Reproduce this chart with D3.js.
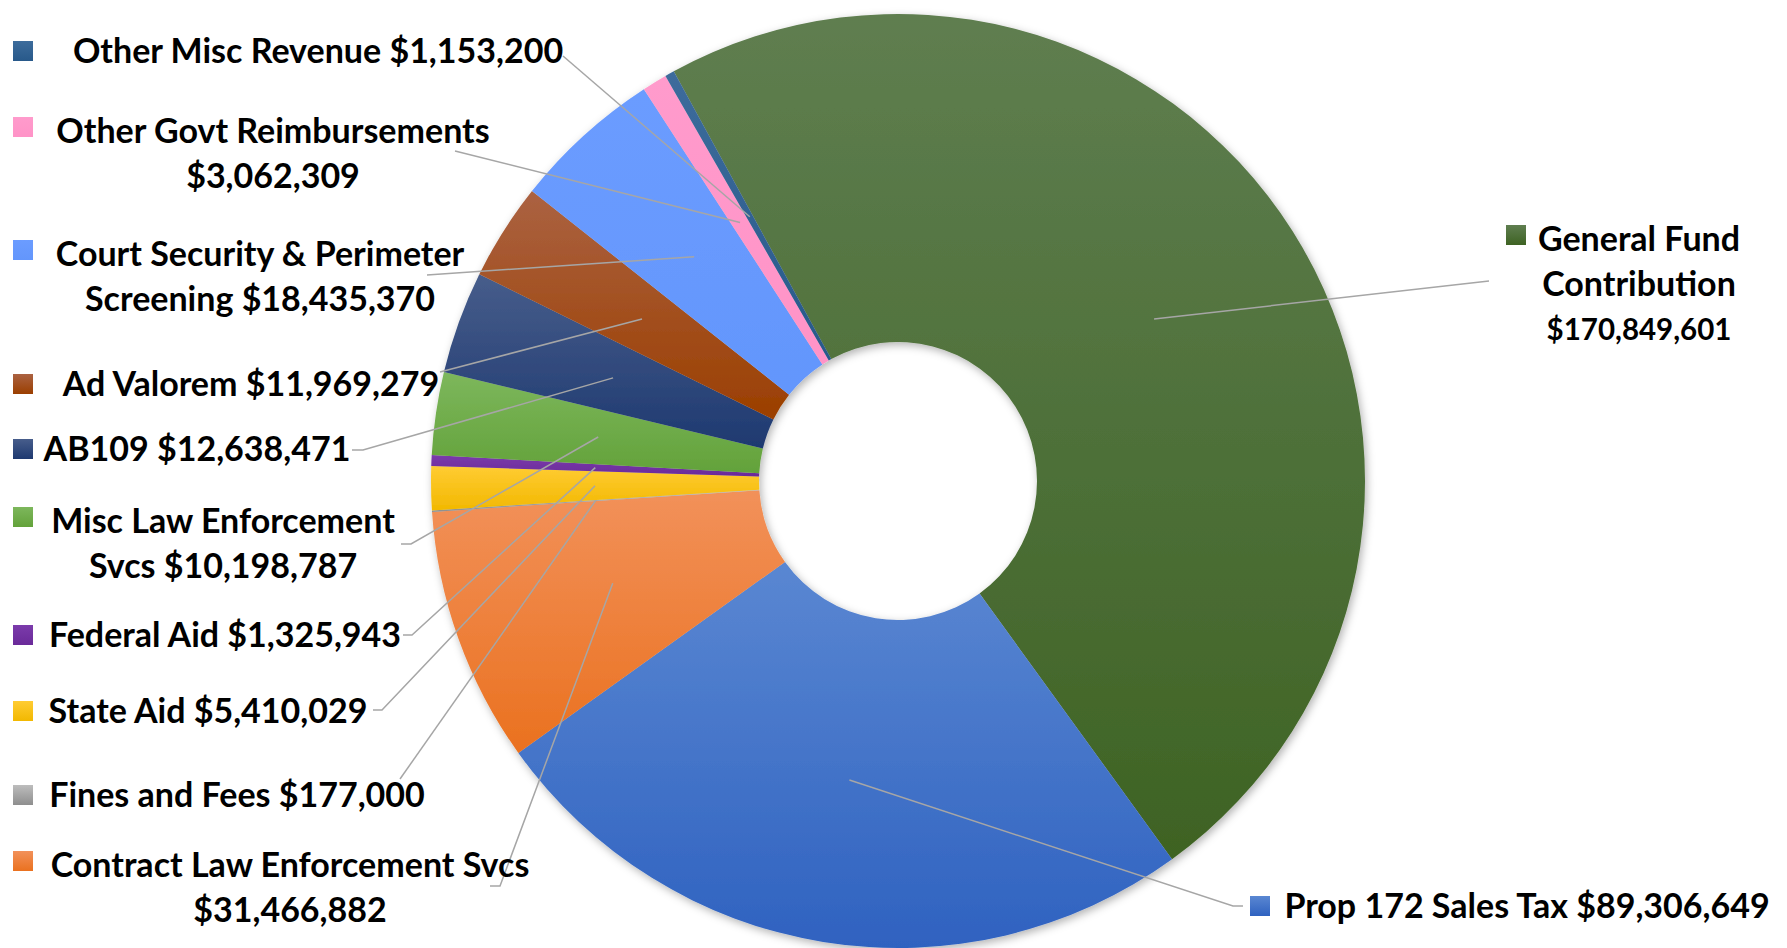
<!DOCTYPE html>
<html>
<head>
<meta charset="utf-8">
<script src="https://cdn.jsdelivr.net/npm/d3@7"></script>
<style>
  body { margin: 0; background: #fff; }
  .label { font-family: Lato, "Open Sans", sans-serif; font-weight: 700; font-size: 34px; fill: #000; }
  .leader { fill: none; stroke: #a6a6a6; stroke-width: 1.5; }
</style>
</head>
<body>
<div id="chart"></div>
<script>
// slices in drawing order, clockwise from the General Fund slice
const categories = [
  "General Fund Contribution",
  "Prop 172 Sales Tax",
  "Contract Law Enforcement Svcs",
  "Fines and Fees",
  "State Aid",
  "Federal Aid",
  "Misc Law Enforcement Svcs",
  "AB109",
  "Ad Valorem",
  "Court Security & Perimeter Screening",
  "Other Govt Reimbursements",
  "Other Misc Revenue"
];
const values = [170849601, 89306649, 31466882, 177000, 5410029, 1325943,
  10198787, 12638471, 11969279, 18435370, 3062309, 1153200];

const topColors = ["#5f7e50", "#5a87d2", "#f2915a", "#bdbdbd", "#ffcc33", "#7b3bab",
  "#7db75c", "#475d8b", "#ab6242", "#6b9cff", "#ff9bcc", "#3d6c9c"];
const bottomColors = ["#3e6323", "#2f62c0", "#ea711f", "#8e8e8e", "#f2b800", "#6a2a99",
  "#63a23a", "#1e3970", "#9b3f00", "#6396fc", "#ff93c7", "#28598a"];

// words per label line
const lineSplits = [[2, 1, 1], [6], [4, 1], [4], [3], [3], [3, 2], [2], [3], [4, 2], [3, 1], [4]];

;(function () {
  const width = 1787, height = 948;
  const cx = 898, cy = 481, outerR = 467, innerR = 139;
  const startAngle = -28.7 * Math.PI / 180;
  const lineGap = 44.5;

  // label boxes placed by hand, like the original
  const labelPos = [
    { keyX: 1506, x: 1639, y: 239, pts: [[1489, 281]] },
    { keyX: 1250, x: 1527, y: 906, pts: [[1243, 906], [1233, 906]] },
    { keyX: 13, x: 290, y: 865, pts: [[490, 886], [500, 886]] },
    { keyX: 13, x: 237, y: 795, pts: [[400, 779]] },
    { keyX: 13, x: 208, y: 711, pts: [[373, 710], [382, 710]] },
    { keyX: 13, x: 225, y: 635, pts: [[403, 635], [412, 635]] },
    { keyX: 13, x: 223, y: 521, pts: [[401, 544], [411, 544]] },
    { keyX: 13, x: 197, y: 449, pts: [[352, 450], [363, 450]] },
    { keyX: 13, x: 251, y: 384, pts: [[440, 372]] },
    { keyX: 13, x: 260, y: 254, pts: [[427, 275]] },
    { keyX: 13, x: 273, y: 131, pts: [[455, 151]] },
    { keyX: 13, x: 318, y: 51, pts: [[563, 56]] }
  ];

  const fmt = d3.format("$,");

  const svg = d3.select("#chart")
    .append("svg")
    .attr("width", width)
    .attr("height", height);

  const defs = svg.append("defs");

  const shadow = defs.append("filter")
    .attr("id", "shadow")
    .attr("x", "-10%").attr("y", "-10%")
    .attr("width", "120%").attr("height", "120%");
  shadow.append("feDropShadow")
    .attr("dx", 2).attr("dy", 3)
    .attr("stdDeviation", 4)
    .attr("flood-color", "#000")
    .attr("flood-opacity", 0.3);

  categories.forEach((c, i) => {
    const g = defs.append("linearGradient")
      .attr("id", "grad-" + i)
      .attr("x1", 0).attr("y1", 0).attr("x2", 0).attr("y2", 1);
    g.append("stop").attr("offset", "0%").attr("stop-color", topColors[i]);
    g.append("stop").attr("offset", "100%").attr("stop-color", bottomColors[i]);
  });

  const pie = d3.pie()
    .sort(null)
    .value(d => d)
    .startAngle(startAngle)
    .endAngle(startAngle + 2 * Math.PI);

  const arcs = pie(values);

  const arc = d3.arc().innerRadius(innerR).outerRadius(outerR);

  const pieG = svg.append("g")
    .attr("transform", "translate(" + cx + "," + cy + ")")
    .attr("filter", "url(#shadow)");

  pieG.selectAll("path")
    .data(arcs)
    .enter()
    .append("path")
    .attr("d", arc)
    .attr("fill", (d, i) => "url(#grad-" + i + ")");

  // leader lines go to the middle of each ring segment
  const midR = (innerR + outerR) / 2;
  const line = d3.line();

  svg.selectAll(".leader")
    .data(arcs)
    .enter()
    .append("path")
    .attr("class", "leader")
    .attr("d", (d, i) => {
      const a = (d.startAngle + d.endAngle) / 2;
      const inner = [cx + midR * Math.sin(a), cy - midR * Math.cos(a)];
      return line(labelPos[i].pts.concat([inner]));
    });

  // labels with their colour keys
  categories.forEach((name, i) => {
    const pos = labelPos[i];
    const words = (name + " " + fmt(values[i])).split(" ");
    const lines = [];
    let k = 0;
    lineSplits[i].forEach(n => {
      lines.push(words.slice(k, k + n).join(" "));
      k += n;
    });

    const keyY = pos.y - 10 - (lines.length > 1 ? 4 : 0);
    svg.append("rect")
      .attr("x", pos.keyX)
      .attr("y", keyY)
      .attr("width", 20)
      .attr("height", 20)
      .attr("fill", "url(#grad-" + i + ")");

    const t = svg.append("text")
      .attr("class", "label")
      .attr("text-anchor", "middle");

    lines.forEach((s, j) => {
      t.append("tspan")
        .attr("x", pos.x)
        .attr("y", pos.y + j * lineGap + 12)
        .style("font-size", (i === 0 && j === 2) ? "29.5px" : null)
        .text(s);
    });
  });
})()
</script>
</body>
</html>
